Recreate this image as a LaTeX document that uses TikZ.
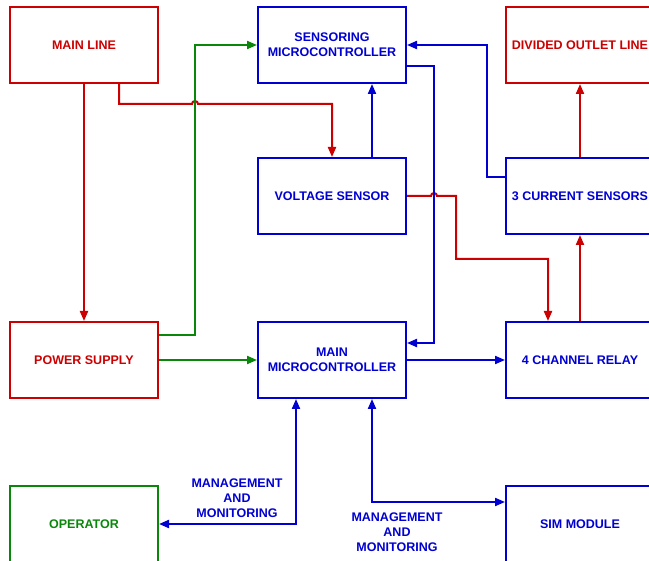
\documentclass[tikz,border=0pt]{standalone}
\usepackage{fontspec}
\setmainfont{Liberation Sans}
\usetikzlibrary{arrows.meta}

\definecolor{dred}{RGB}{204,0,0}
\definecolor{dblue}{RGB}{0,0,210}
\definecolor{dgreen}{RGB}{10,135,10}

\tikzset{
  blk/.style={draw, line width=2pt, minimum width=148pt, minimum height=76pt,
    align=center, font=\fontsize{12.5}{15}\selectfont\bfseries},
  redblk/.style={blk, draw=dred, text=dred},
  blueblk/.style={blk, draw=dblue, text=dblue},
  greenblk/.style={blk, draw=dgreen, text=dgreen},
  wire/.style={line width=2pt},
}

\begin{document}
\begin{tikzpicture}[x=1pt,y=-1pt,>={Triangle[length=10pt,width=8pt]}]
    \useasboundingbox (0,0) rectangle (649,561);
    \clip (0,0) rectangle (649,561);
    % blocks
    \node[redblk] (mainline) at (84,45) {MAIN LINE};
    \node[blueblk] (sensmc) at (332,45) {SENSORING\\MICROCONTROLLER};
    \node[redblk] (outlet) at (580,45) {DIVIDED OUTLET LINE};
    \node[blueblk] (voltage) at (332,196) {VOLTAGE SENSOR};
    \node[blueblk] (current) at (580,196) {3 CURRENT SENSORS};
    \node[redblk] (power) at (84,360) {POWER SUPPLY};
    \node[blueblk] (mainmc) at (332,360) {MAIN\\MICROCONTROLLER};
    \node[blueblk] (relay) at (580,360) {4 CHANNEL RELAY};
    \node[greenblk] (operator) at (84,524) {OPERATOR};
    \node[blueblk] (sim) at (580,524) {SIM MODULE};
    \coordinate (gturn) at (195,45);
    \coordinate (bus) at (434,200);
    \coordinate (cturn) at (487,100);
    % power lines
    \draw[wire,dred,->] (mainline) -- (power);
    \draw[wire,dred,->] ([xshift=35pt]mainline.south) |- (192,104)
        arc(180:360:3) -- (voltage.north |- 0,104) -- (voltage.north);
    \draw[wire,dred,->] (voltage.east) -- (431,196) arc(180:360:3) -- (456,196)
        -- (456,259) -| ([xshift=-32pt]relay.north);
    \draw[wire,dred,->] (relay.north) -- (current.south);
    \draw[wire,dred,->] (current.north) -- (outlet.south);
    \draw[wire,dgreen,->] ([yshift=25pt]power.east) -| (gturn) -- (sensmc.west);
    \draw[wire,dgreen,->] (power.east) -- (mainmc.west);
    % signal lines
    \draw[wire,dblue,->] ([xshift=40pt]voltage.north) -- ([xshift=40pt]sensmc.south);
    \draw[wire,dblue,->] ([yshift=-21pt]sensmc.east) -| (bus) |- ([yshift=17pt]mainmc.east);
    \draw[wire,dblue,->] ([yshift=19pt]current.west) -| (cturn) |- (sensmc.east);
    \draw[wire,dblue,->] (mainmc.east) -- (relay.west);
    \draw[wire,dblue,<->] ([xshift=-36pt]mainmc.south) |- (operator.east);
    \draw[wire,dblue,<->] ([xshift=40pt]mainmc.south) |- ([yshift=22pt]sim.west);
    \node[align=center, text=dblue, font=\fontsize{12.5}{15}\selectfont\bfseries] (mgmtop) at (237,498) {MANAGEMENT\\AND\\MONITORING};
    \node[align=center, text=dblue, font=\fontsize{12.5}{15}\selectfont\bfseries] (mgmsim) at (397,532) {MANAGEMENT\\AND\\MONITORING};
\end{tikzpicture}
\end{document}
